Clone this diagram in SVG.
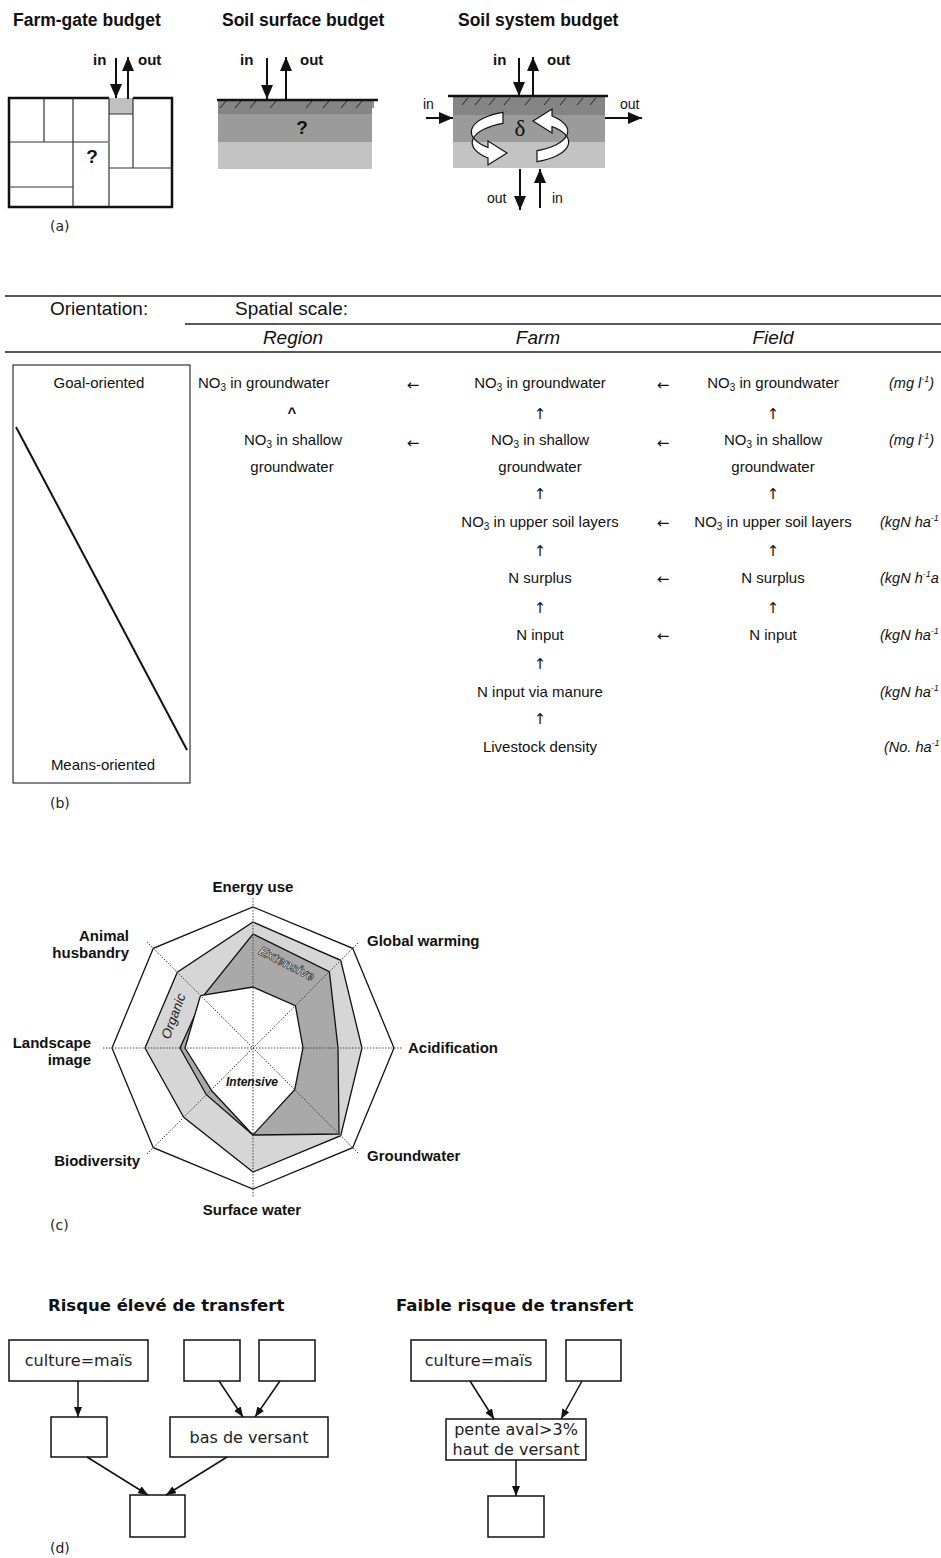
<svg xmlns="http://www.w3.org/2000/svg" width="941" height="1558" viewBox="0 0 941 1558">
<style>
.ttl{font-family:"Liberation Sans",Arial,sans-serif;font-weight:bold;font-size:17.5px;fill:#111}
.io{font-family:"Liberation Sans",Arial,sans-serif;font-weight:bold;font-size:15px;fill:#111}
.ior{font-family:"Liberation Sans",Arial,sans-serif;font-size:14px;fill:#111}
.q{font-family:"Liberation Sans",Arial,sans-serif;font-weight:bold;font-size:19px;fill:#111;text-anchor:middle}
.pl{font-family:"DejaVu Sans",sans-serif;font-size:14px;fill:#222}
.hd{font-family:"Liberation Sans",Arial,sans-serif;font-size:19px;fill:#111}
.hdi{font-family:"Liberation Sans",Arial,sans-serif;font-size:19px;font-style:italic;fill:#111;text-anchor:middle}
.tb{font-family:"Liberation Sans",Arial,sans-serif;font-size:15px;fill:#111}
.ar{font-family:"DejaVu Sans",sans-serif;font-size:15px;fill:#111;text-anchor:middle}
.m{text-anchor:middle}
.e{text-anchor:end}
.un{font-family:"Liberation Sans",Arial,sans-serif;font-size:14.5px;font-style:italic;fill:#111}
.rl{font-family:"Liberation Sans",Arial,sans-serif;font-size:15px;font-weight:bold;fill:#111}
.dd{font-family:"DejaVu Sans",sans-serif;font-size:16px;fill:#222;text-anchor:middle}
.dt{font-family:"DejaVu Sans",sans-serif;font-size:16.5px;font-weight:bold;fill:#111}
.box{fill:#fff;stroke:#111;stroke-width:1.5}
.arr{stroke:#111;stroke-width:2;fill:none}
.darr{stroke:#111;stroke-width:1.5;fill:none}
.thin{stroke:#333;stroke-width:1.2;fill:none}
.hatch{stroke:#222;stroke-width:1}
.ax{stroke:#444;stroke-width:1;stroke-dasharray:1.5 1.5;fill:none}
.rib{fill:#fff;stroke:#111;stroke-width:1.2}
.rule{stroke:#222;stroke-width:1.5}
</style>
<defs>
<marker id="ha" viewBox="0 0 14 12" refX="14" refY="6" markerWidth="14" markerHeight="12" markerUnits="userSpaceOnUse" orient="auto"><path d="M0,0 L14,6 L0,12 z" fill="#111"/></marker>
<marker id="hd" viewBox="0 0 10 8" refX="10" refY="4" markerWidth="10" markerHeight="8" markerUnits="userSpaceOnUse" orient="auto"><path d="M0,0 L10,4 L0,8 z" fill="#111"/></marker>
</defs>
<rect width="941" height="1558" fill="#fff"/>

<!-- (a) -->
<g id="farm-gate">
<text class="ttl" x="13" y="26">Farm-gate budget</text>
<rect x="109" y="98" width="24" height="16" fill="#c0c0c0"/>
<path d="M109,98 L9,98 L9,207 L172,207 L172,98 L133,98" fill="none" stroke="#111" stroke-width="2.5"/>
<path class="thin" d="M44,98 V142 M73,98 V207 M9,142 H108 M109,98 V207 M133,98 V168 M109,114 H133 M109,168 H172 M9,187 H73"/>
<text class="q" x="92" y="163">?</text>
<text class="io" x="93" y="65">in</text>
<text class="io" x="138" y="65">out</text>
</g>
<g id="soil-surface">
<text class="ttl" x="222" y="26">Soil surface budget</text>
<rect x="218" y="100" width="154" height="14" fill="#858585"/>
<rect x="218" y="114" width="154" height="28" fill="#9b9b9b"/>
<rect x="218" y="142" width="154" height="27" fill="#c3c3c3"/>
<line x1="217" y1="100" x2="378" y2="100" stroke="#111" stroke-width="2.5"/>
<path class="hatch" d="M220,108 L226,101 M235,108 L241,101 M250,108 L256,101 M270,108 L276,101 M306,108 L312,101 M323,108 L329,101 M341,108 L347,101 M356,108 L362,101 M373,108 L373,101"/>
<text class="q" x="302" y="134">?</text>
<text class="io" x="240" y="65">in</text>
<text class="io" x="300" y="65">out</text>
</g>
<g id="soil-system">
<text class="ttl" x="458" y="26">Soil system budget</text>
<rect x="453" y="96" width="152" height="19" fill="#858585"/>
<rect x="453" y="115" width="152" height="27" fill="#9b9b9b"/>
<rect x="453" y="142" width="152" height="26" fill="#c3c3c3"/>
<line x1="448" y1="96" x2="608" y2="96" stroke="#111" stroke-width="2.5"/>
<path class="hatch" d="M462,105 L468,98 M475,105 L481,98 M489,105 L495,98 M504,105 L510,98 M525,105 L531,98 M544,105 L550,98 M560,105 L566,98 M577,105 L583,98 M590,105 L596,98"/>
<path class="rib" d="M503,112.3 A50,21 0 0,0 488,147.5 L488,141 L507,153 L488,165 L488,158 A50,21 0 0,1 503,123.3 Z"/>
<path class="rib" transform="rotate(180 520 137)" d="M503,112.3 A50,21 0 0,0 488,147.5 L488,141 L507,153 L488,165 L488,158 A50,21 0 0,1 503,123.3 Z"/>
<text x="520" y="136" font-family="'Liberation Serif',serif" font-size="23" fill="#111" text-anchor="middle">δ</text>
<text class="io" x="493" y="65">in</text>
<text class="io" x="547" y="65">out</text>
<text class="ior" x="423" y="109">in</text>
<text class="ior" x="620" y="109">out</text>
<text class="ior" x="487" y="203">out</text>
<text class="ior" x="552" y="203">in</text>
</g>
<g id="a-arrows">
<line class="arr" x1="116" y1="58" x2="116" y2="98" marker-end="url(#ha)"/>
<line class="arr" x1="128" y1="99" x2="128" y2="57" marker-end="url(#ha)"/>
<line class="arr" x1="267" y1="58" x2="267" y2="99" marker-end="url(#ha)"/>
<line class="arr" x1="286" y1="100" x2="286" y2="57" marker-end="url(#ha)"/>
<line class="arr" x1="519" y1="58" x2="519" y2="96" marker-end="url(#ha)"/>
<line class="arr" x1="533" y1="96" x2="533" y2="57" marker-end="url(#ha)"/>
<line class="arr" x1="426" y1="118" x2="453" y2="118" marker-end="url(#ha)"/>
<line class="arr" x1="605" y1="118" x2="642" y2="118" marker-end="url(#ha)"/>
<line class="arr" x1="520" y1="169" x2="520" y2="210" marker-end="url(#ha)"/>
<line class="arr" x1="540" y1="208" x2="540" y2="169" marker-end="url(#ha)"/>
</g>
<text class="pl" x="50" y="231">(a)</text>

<!-- (b) -->
<g id="table-b">
<line class="rule" x1="5" y1="296" x2="941" y2="296"/>
<line class="rule" x1="185" y1="324" x2="941" y2="324"/>
<line class="rule" x1="5" y1="352" x2="941" y2="352"/>
<text class="hd" x="50" y="315">Orientation:</text>
<text class="hd" x="235" y="315">Spatial scale:</text>
<text class="hdi" x="293" y="344">Region</text>
<text class="hdi" x="538" y="344">Farm</text>
<text class="hdi" x="773" y="344">Field</text>
</g>
<g id="orientation">
<rect x="13" y="365" width="177" height="418" fill="none" stroke="#333" stroke-width="1.2"/>
<line x1="16" y1="427" x2="187" y2="750" stroke="#111" stroke-width="2"/>
<text class="tb m" x="99" y="388">Goal-oriented</text>
<text class="tb m" x="103" y="770">Means-oriented</text>
</g>
<g id="region-col">
<text class="tb" x="198" y="388">NO<tspan font-size="10" dy="3">3</tspan><tspan dy="-3"> in groundwater</tspan></text>
<text class="tb m" x="292" y="418" font-size="11" font-weight="bold">^</text>
<text class="tb m" x="293" y="445">NO<tspan font-size="10" dy="3">3</tspan><tspan dy="-3"> in shallow</tspan></text>
<text class="tb m" x="292" y="472">groundwater</text>
</g>
<g id="farm-col">
<text class="tb m" x="540" y="388">NO<tspan font-size="10" dy="3">3</tspan><tspan dy="-3"> in groundwater</tspan></text>
<text class="ar" x="540" y="419">↑</text>
<text class="tb m" x="540" y="445">NO<tspan font-size="10" dy="3">3</tspan><tspan dy="-3"> in shallow</tspan></text>
<text class="tb m" x="540" y="472">groundwater</text>
<text class="ar" x="540" y="499">↑</text>
<text class="tb m" x="540" y="527">NO<tspan font-size="10" dy="3">3</tspan><tspan dy="-3"> in upper soil layers</tspan></text>
<text class="ar" x="540" y="556">↑</text>
<text class="tb m" x="540" y="583">N surplus</text>
<text class="ar" x="540" y="613">↑</text>
<text class="tb m" x="540" y="640">N input</text>
<text class="ar" x="540" y="669">↑</text>
<text class="tb m" x="540" y="697">N input via manure</text>
<text class="ar" x="540" y="724">↑</text>
<text class="tb m" x="540" y="752">Livestock density</text>
</g>
<g id="field-col">
<text class="tb m" x="773" y="388">NO<tspan font-size="10" dy="3">3</tspan><tspan dy="-3"> in groundwater</tspan></text>
<text class="ar" x="773" y="419">↑</text>
<text class="tb m" x="773" y="445">NO<tspan font-size="10" dy="3">3</tspan><tspan dy="-3"> in shallow</tspan></text>
<text class="tb m" x="773" y="472">groundwater</text>
<text class="ar" x="773" y="499">↑</text>
<text class="tb m" x="773" y="527">NO<tspan font-size="10" dy="3">3</tspan><tspan dy="-3"> in upper soil layers</tspan></text>
<text class="ar" x="773" y="556">↑</text>
<text class="tb m" x="773" y="583">N surplus</text>
<text class="ar" x="773" y="613">↑</text>
<text class="tb m" x="773" y="640">N input</text>
</g>
<g id="b-arrows">
<text class="ar" x="413" y="390">←</text>
<text class="ar" x="413" y="448">←</text>
<text class="ar" x="663" y="390">←</text>
<text class="ar" x="663" y="448">←</text>
<text class="ar" x="663" y="528">←</text>
<text class="ar" x="663" y="584">←</text>
<text class="ar" x="663" y="641">←</text>
</g>
<g id="units">
<text class="un" x="889" y="388">(mg l<tspan font-size="9" dy="-6">-1</tspan><tspan dy="6">)</tspan></text>
<text class="un" x="889" y="445">(mg l<tspan font-size="9" dy="-6">-1</tspan><tspan dy="6">)</tspan></text>
<text class="un" x="880" y="527">(kgN ha<tspan font-size="9" dy="-6">-1</tspan></text>
<text class="un" x="880" y="583">(kgN h<tspan font-size="9" dy="-6">-1</tspan><tspan dy="6">a</tspan></text>
<text class="un" x="880" y="640">(kgN ha<tspan font-size="9" dy="-6">-1</tspan></text>
<text class="un" x="880" y="697">(kgN ha<tspan font-size="9" dy="-6">-1</tspan></text>
<text class="un" x="884" y="752">(No. ha<tspan font-size="9" dy="-6">-1</tspan></text>
</g>
<text class="pl" x="50" y="808">(b)</text>

<!-- (c) -->
<g id="radar">
<polygon points="253,907 352.7,948.3 394,1048 352.7,1147.7 253,1189 153.3,1147.7 112,1048 153.3,948.3" fill="#fff" stroke="#111" stroke-width="1.3"/>
<polygon points="253,922 340.7,960.3 362,1048 340.7,1135.7 253,1172 183.7,1117.3 145,1048 177.3,972.3" fill="#d6d6d6" stroke="#111" stroke-width="1.3"/>
<polygon points="253,934 329.4,971.6 338,1048 339,1134 253,1135 206.3,1094.7 180,1048 204,995" fill="#a9a9a9" stroke="#111" stroke-width="1.3"/>
<polygon points="253,987 295.4,1005.6 303,1048 294.7,1089.7 253,1135 212,1091 185,1048 200.5,995.5" fill="#fff" stroke="#111" stroke-width="1.3"/>
<path class="ax" d="M253,898 V1198 M103,1048 H403 M147,942 L359,1154 M147,1154 L359,942"/>
<text x="173" y="1016" transform="rotate(-70 173 1016)" dy="5" font-family="'Liberation Sans',Arial,sans-serif" font-size="13.5" font-style="italic" fill="#222" text-anchor="middle">Organic</text>
<text x="287" y="963" transform="rotate(27 287 963)" dy="5" font-family="'Liberation Sans',Arial,sans-serif" font-size="13" font-style="italic" font-weight="bold" fill="#fff" stroke="#444" stroke-width="0.8" text-anchor="middle">Extensive</text>
<text x="252" y="1086" font-family="'Liberation Sans',Arial,sans-serif" font-size="12" font-style="italic" font-weight="bold" fill="#111" text-anchor="middle">Intensive</text>
</g>
<g id="radar-labels">
<text class="rl m" x="253" y="892">Energy use</text>
<text class="rl" x="367" y="946">Global warming</text>
<text class="rl e" x="129" y="941">Animal</text>
<text class="rl e" x="129" y="958">husbandry</text>
<text class="rl e" x="91" y="1048">Landscape</text>
<text class="rl e" x="91" y="1065">image</text>
<text class="rl" x="408" y="1053">Acidification</text>
<text class="rl e" x="140" y="1166">Biodiversity</text>
<text class="rl" x="367" y="1161">Groundwater</text>
<text class="rl m" x="252" y="1215">Surface water</text>
</g>
<text class="pl" x="50" y="1230">(c)</text>

<!-- (d) -->
<text class="dt" x="48" y="1311">Risque élevé de transfert</text>
<text class="dt" x="396" y="1311">Faible risque de transfert</text>
<g id="d-culture-left"><rect class="box" x="9" y="1340" width="139" height="41"/><text class="dd" x="78.5" y="1366">culture=maïs</text></g>
<g id="d-empty-1"><rect class="box" x="184" y="1340" width="56" height="41"/></g>
<g id="d-empty-2"><rect class="box" x="259" y="1340" width="56" height="41"/></g>
<g id="d-empty-mid"><rect class="box" x="51" y="1417" width="56" height="40"/></g>
<g id="d-bas"><rect class="box" x="170" y="1417" width="158" height="40"/><text class="dd" x="249" y="1443">bas de versant</text></g>
<g id="d-bottom-left"><rect class="box" x="130" y="1495" width="55" height="42"/></g>
<g id="d-culture-right"><rect class="box" x="411" y="1340" width="135" height="41"/><text class="dd" x="478.5" y="1366">culture=maïs</text></g>
<g id="d-empty-right"><rect class="box" x="566" y="1340" width="55" height="41"/></g>
<g id="d-pente"><rect class="box" x="446" y="1419" width="140" height="41"/><text class="dd" x="516" y="1435">pente aval&gt;3%</text><text class="dd" x="516" y="1455">haut de versant</text></g>
<g id="d-bottom-right"><rect class="box" x="488" y="1496" width="56" height="41"/></g>
<g id="d-connectors">
<line class="darr" x1="78" y1="1381" x2="78" y2="1417" marker-end="url(#hd)"/>
<line class="darr" x1="219" y1="1381" x2="243" y2="1417" marker-end="url(#hd)"/>
<line class="darr" x1="280" y1="1381" x2="255" y2="1417" marker-end="url(#hd)"/>
<line class="darr" x1="87" y1="1457" x2="148" y2="1495" marker-end="url(#hd)"/>
<line class="darr" x1="227" y1="1457" x2="166" y2="1495" marker-end="url(#hd)"/>
<line class="darr" x1="470" y1="1381" x2="494" y2="1419" marker-end="url(#hd)"/>
<line class="darr" x1="582" y1="1381" x2="561" y2="1419" marker-end="url(#hd)"/>
<line class="darr" x1="516" y1="1460" x2="516" y2="1496" marker-end="url(#hd)"/>
</g>
<text class="pl" x="50" y="1553">(d)</text>
</svg>
